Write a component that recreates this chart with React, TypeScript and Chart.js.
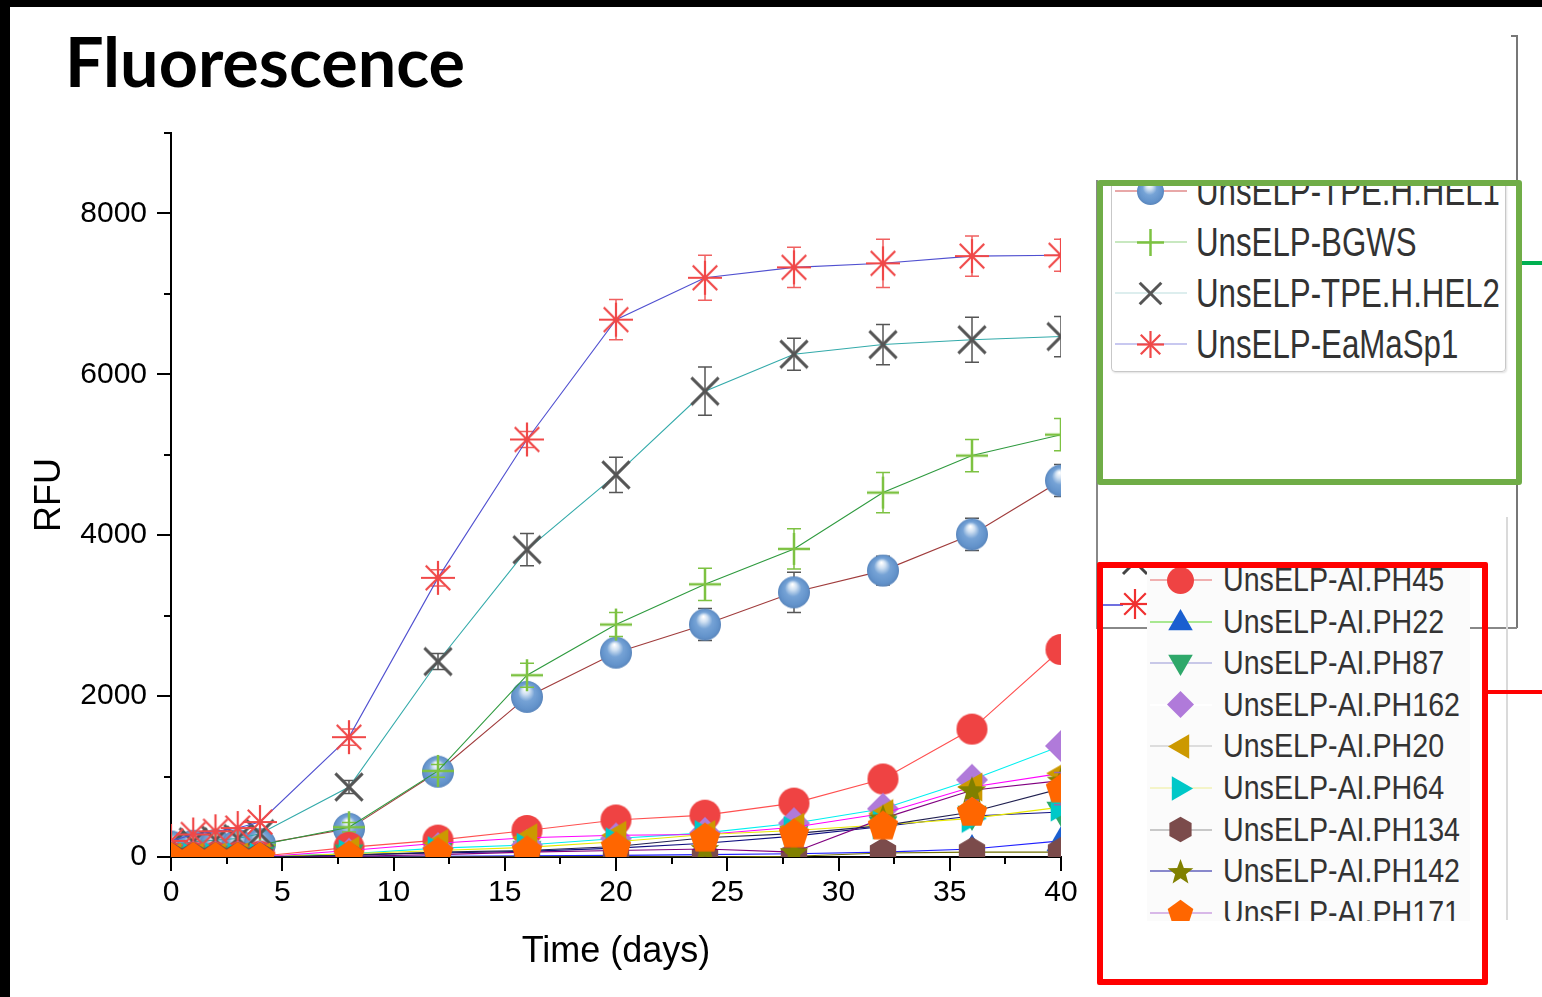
import React, { useEffect, useRef, useMemo } from 'react';
import { Chart, registerables } from 'chart.js';

Chart.register(...registerables);

// ---------------- DATA ----------------
const days = [0, 1, 2, 3, 4, 8, 12, 16, 20, 24, 28, 32, 36, 40];

const seriesNames = [
  'UnsELP-TPE.H.HEL1',
  'UnsELP-BGWS',
  'UnsELP-TPE.H.HEL2',
  'UnsELP-EaMaSp1',
  'UnsELP-AI.PH45',
  'UnsELP-AI.PH22',
  'UnsELP-AI.PH87',
  'UnsELP-AI.PH162',
  'UnsELP-AI.PH20',
  'UnsELP-AI.PH64',
  'UnsELP-AI.PH134',
  'UnsELP-AI.PH142',
  'UnsELP-AI.PH171',
];

const hel1 = [130, 140, 150, 150, 160, 350, 1060, 1990, 2540, 2890, 3290, 3560, 4010, 4680];
const bgws = [110, 110, 120, 130, 150, 370, 1070, 2260, 2890, 3390, 3830, 4530, 4990, 5250];
const hel2 = [150, 190, 210, 230, 290, 870, 2430, 3820, 4750, 5790, 6250, 6370, 6430, 6470];
const eaMaSp1 = [200, 280, 320, 360, 435, 1490, 3470, 5190, 6680, 7200, 7330, 7380, 7470, 7480];
const ph45 = [0, 0, 0, 0, 10, 120, 210, 330, 460, 520, 670, 970, 1590, 2580];
const ph22 = [0, 0, 0, 0, 0, 5, 10, 15, 20, 30, 40, 60, 100, 200];
const ph87 = [0, 0, 0, 0, 0, 30, 50, 70, 110, 170, 260, 380, 510, 560];
const ph162 = [0, 0, 0, 0, 10, 40, 110, 150, 230, 300, 420, 600, 960, 1380];
const ph20 = [0, 0, 0, 0, 0, 80, 170, 240, 270, 280, 370, 540, 870, 1040];
const ph64 = [0, 0, 0, 0, 0, 40, 80, 120, 190, 280, 330, 400, 480, 620];
const ph134 = [0, 0, 0, 0, 0, 0, 0, 0, 0, 0, 10, 50, 60, 60];
const ph142 = [0, 0, 0, 0, 0, 10, 30, 60, 80, 100, 60, 480, 830, 950];
const ph171 = [0, 0, 0, 0, 0, 20, 60, 80, 130, 240, 290, 390, 560, 850];

const hel1Err = [0, 0, 0, 0, 0, 60, 80, 100, 150, 200, 250, 180, 200, 200];
const bgwsErr = [0, 0, 0, 0, 0, 60, 80, 150, 150, 200, 250, 250, 200, 200];
const hel2Err = [0, 0, 0, 0, 0, 80, 100, 200, 220, 300, 200, 250, 280, 250];
const eaMaSp1Err = [0, 0, 0, 0, 0, 100, 100, 100, 250, 280, 250, 300, 250, 200];
const ph171Err = [0, 0, 0, 0, 0, 0, 60, 80, 80, 100, 120, 120, 150, 200];

const seriesValues = [hel1, bgws, hel2, eaMaSp1, ph45, ph22, ph87, ph162, ph20, ph64, ph134, ph142, ph171];
const seriesErrors = [hel1Err, bgwsErr, hel2Err, eaMaSp1Err, null, null, null, null, null, null, null, null, ph171Err];

const xTickValues = [0, 5, 10, 15, 20, 25, 30, 35, 40];
const yTickValues = [0, 2000, 4000, 6000, 8000];

// ---------------- STYLES ----------------
const markerShapes = ['sphere', 'plus', 'cross', 'asterisk', 'circle', 'triUp', 'triDown', 'diamond', 'triLeft', 'triRight', 'hexagon', 'star', 'pentagon'];
const markerColors = ['#6C9BD2', '#7DC242', '#555555', '#F04848', '#EF4343', '#1A5FD0', '#2EA86A', '#B07ADA', '#CC9900', '#00C8C8', '#7B4B4B', '#808000', '#FF6600'];
const lineColors = ['#A03C3C', '#2E9A3E', '#33AAAA', '#5050D0', '#FF5050', '#2020FF', '#101080', '#00F0F0', '#FF00FF', '#E8E800', '#707000', '#800080', '#202050'];
const legendLineColors = ['#E8A8A8', '#C8E8C0', '#DDEEEE', '#C8C8F0', '#F0B0B0', '#A8E890', '#C8C8E8', '#FFFFFF', '#DDDDDD', '#F4F4C8', '#C8C8C8', '#8888CC', '#D8B8E8'];
const errorColors = ['#555555', '#7DC242', '#555555', '#F06060', '', '', '', '', '', '', '', '', '#9966AA'];

function polygon(ctx: CanvasRenderingContext2D, cx: number, cy: number, r: number, n: number, start: number) {
  ctx.beginPath();
  for (let i = 0; i < n; i++) {
    const a = start + (i * 2 * Math.PI) / n;
    const px = cx + r * Math.cos(a);
    const py = cy + r * Math.sin(a);
    if (i === 0) ctx.moveTo(px, py);
    else ctx.lineTo(px, py);
  }
  ctx.closePath();
  ctx.fill();
}

function makeMarker(shape: string, color: string, size: number): HTMLCanvasElement {
  const c = document.createElement('canvas');
  const pad = 3;
  c.width = size + pad * 2;
  c.height = size + pad * 2;
  const ctx = c.getContext('2d') as CanvasRenderingContext2D;
  const cx = c.width / 2;
  const cy = c.height / 2;
  const r = size / 2;
  ctx.fillStyle = color;
  ctx.strokeStyle = color;
  ctx.lineCap = 'butt';
  const line = (x1: number, y1: number, x2: number, y2: number) => {
    ctx.beginPath();
    ctx.moveTo(x1, y1);
    ctx.lineTo(x2, y2);
    ctx.stroke();
  };
  switch (shape) {
    case 'sphere': {
      const g = ctx.createRadialGradient(cx - r * 0.1, cy - r * 0.5, 0.5, cx, cy, r);
      g.addColorStop(0, '#FFFFFF');
      g.addColorStop(0.22, '#CFE0F2');
      g.addColorStop(0.5, '#76A3D6');
      g.addColorStop(0.85, '#6393CB');
      g.addColorStop(1, '#5A86BC');
      ctx.fillStyle = g;
      ctx.beginPath();
      ctx.arc(cx, cy, r, 0, Math.PI * 2);
      ctx.fill();
      break;
    }
    case 'plus':
      ctx.lineWidth = 2.5;
      line(cx - r, cy, cx + r, cy);
      line(cx, cy - r, cx, cy + r);
      break;
    case 'cross': {
      ctx.lineWidth = 3;
      const d = r * 0.8;
      line(cx - d, cy - d, cx + d, cy + d);
      line(cx - d, cy + d, cx + d, cy - d);
      break;
    }
    case 'asterisk': {
      ctx.lineWidth = 2.2;
      const d = r * 0.72;
      line(cx - r, cy, cx + r, cy);
      line(cx, cy - r, cx, cy + r);
      line(cx - d, cy - d, cx + d, cy + d);
      line(cx - d, cy + d, cx + d, cy - d);
      break;
    }
    case 'circle':
      ctx.beginPath();
      ctx.arc(cx, cy, r, 0, Math.PI * 2);
      ctx.fill();
      break;
    case 'triUp':
      polygon(ctx, cx, cy + r * 0.12, r * 1.05, 3, -Math.PI / 2);
      break;
    case 'triDown':
      polygon(ctx, cx, cy - r * 0.12, r * 1.05, 3, Math.PI / 2);
      break;
    case 'triLeft':
      polygon(ctx, cx + r * 0.12, cy, r * 1.05, 3, Math.PI);
      break;
    case 'triRight':
      polygon(ctx, cx - r * 0.12, cy, r * 1.05, 3, 0);
      break;
    case 'diamond':
      polygon(ctx, cx, cy, r, 4, -Math.PI / 2);
      break;
    case 'hexagon':
      polygon(ctx, cx, cy, r * 0.95, 6, -Math.PI / 2);
      break;
    case 'pentagon':
      polygon(ctx, cx, cy + r * 0.05, r, 5, -Math.PI / 2);
      break;
    case 'star': {
      ctx.beginPath();
      for (let i = 0; i < 10; i++) {
        const a = -Math.PI / 2 + (i * Math.PI) / 5;
        const rr = i % 2 === 0 ? r : r * 0.42;
        const px = cx + rr * Math.cos(a);
        const py = cy + 1 + rr * Math.sin(a);
        if (i === 0) ctx.moveTo(px, py);
        else ctx.lineTo(px, py);
      }
      ctx.closePath();
      ctx.fill();
      break;
    }
  }
  return c;
}

const markerSizes = [32, 32, 34, 34, 31, 32, 32, 32, 32, 32, 32, 30, 32];

// ---------------- PLUGINS ----------------
const errorBarPlugin = {
  id: 'errorBars',
  beforeDatasetDraw(chart: any, args: any) {
    const ds = chart.data.datasets[args.index];
    const err = ds.errors as number[] | null;
    if (!err) return;
    const { ctx, chartArea, scales } = chart;
    const xs = scales.x;
    const ys = scales.y;
    ctx.save();
    ctx.beginPath();
    ctx.rect(chartArea.left, chartArea.top, chartArea.right - chartArea.left, chartArea.bottom - chartArea.top);
    ctx.clip();
    ctx.strokeStyle = ds.errorColor;
    ctx.lineWidth = 1.5;
    ds.data.forEach((p: any, i: number) => {
      const e = err[i];
      if (!e) return;
      const px = xs.getPixelForValue(p.x);
      const y1 = ys.getPixelForValue(p.y + e);
      const y2 = ys.getPixelForValue(p.y - e);
      ctx.beginPath();
      ctx.moveTo(px, y1);
      ctx.lineTo(px, y2);
      ctx.moveTo(px - 7, y1);
      ctx.lineTo(px + 7, y1);
      ctx.moveTo(px - 7, y2);
      ctx.lineTo(px + 7, y2);
      ctx.stroke();
    });
    ctx.restore();
  },
};

const tickPlugin = {
  id: 'axisTicks',
  beforeDatasetsDraw(chart: any) {
    const { ctx, chartArea, scales } = chart;
    const xs = scales.x;
    const ys = scales.y;
    ctx.save();
    ctx.strokeStyle = '#000';
    ctx.lineWidth = 2;
    for (let v = 0; v <= 9000; v += 1000) {
      const py = Math.round(ys.getPixelForValue(v));
      const len = yTickValues.includes(v) ? 14 : 7;
      ctx.beginPath();
      ctx.moveTo(chartArea.left - len, py);
      ctx.lineTo(chartArea.left, py);
      ctx.stroke();
    }
    for (let v = 0; v <= 40; v += 2.5) {
      const px = Math.round(xs.getPixelForValue(v));
      const len = xTickValues.includes(v) ? 14 : 7;
      ctx.beginPath();
      ctx.moveTo(px, chartArea.bottom);
      ctx.lineTo(px, chartArea.bottom + len);
      ctx.stroke();
    }
    ctx.restore();
  },
};

// ---------------- COMPONENTS ----------------
function FitText(props: { text: string; font: string; width: number; style?: any }) {
  const scale = useMemo(() => {
    const c = document.createElement('canvas');
    const ctx = c.getContext('2d') as CanvasRenderingContext2D;
    ctx.font = props.font;
    const w = ctx.measureText(props.text).width;
    return w > 0 ? props.width / w : 1;
  }, [props.text, props.font, props.width]);
  return (
    <span
      style={{
        display: 'inline-block',
        whiteSpace: 'nowrap',
        font: props.font,
        transform: `scaleX(${scale})`,
        transformOrigin: 'left center',
        ...(props.style || {}),
      }}
    >
      {props.text}
    </span>
  );
}

function FluorChart() {
  const ref = useRef<HTMLCanvasElement>(null);
  useEffect(() => {
    const N = seriesNames.length;
    const datasets = seriesNames.map((name, i) => ({
      label: name,
      data: days.map((d, j) => ({ x: d, y: seriesValues[i][j] })),
      borderColor: lineColors[i],
      backgroundColor: markerColors[i],
      borderWidth: 1.1,
      pointStyle: makeMarker(markerShapes[i], markerColors[i], markerSizes[i]),
      pointRadius: 15,
      pointHoverRadius: 15,
      tension: 0,
      clip: 0,
      order: N - i,
      errors: seriesErrors[i],
      errorColor: errorColors[i],
    }));
    const font = 'Liberation Sans, Arial, sans-serif';
    const chart = new Chart(ref.current as HTMLCanvasElement, {
      type: 'line',
      data: { datasets } as any,
      options: {
        animation: false,
        responsive: false,
        devicePixelRatio: 1,
        events: [],
        layout: { padding: { top: 133, right: 29, left: 0, bottom: 0 } },
        plugins: { legend: { display: false }, tooltip: { enabled: false }, title: { display: false } },
        scales: {
          x: {
            type: 'linear',
            min: 0,
            max: 40,
            afterFit: (s: any) => {
              s.height = 140;
            },
            afterBuildTicks: (s: any) => {
              s.ticks = xTickValues.map((v) => ({ value: v }));
            },
            grid: { display: true, drawOnChartArea: false, drawTicks: true, tickLength: 14, color: 'rgba(0,0,0,0)', tickColor: 'rgba(0,0,0,0)' },
            border: { display: true, color: '#000', width: 2 },
            ticks: { autoSkip: false, maxRotation: 0, padding: 4, color: '#000', font: { family: font, size: 30 }, callback: (v: any) => String(v) },
            title: { display: true, text: 'Time (days)', color: '#000', font: { family: font, size: 36 }, padding: { top: 0, bottom: 23 } },
          },
          y: {
            type: 'linear',
            min: 0,
            max: 9000,
            afterFit: (s: any) => {
              s.width = 171;
            },
            afterBuildTicks: (s: any) => {
              s.ticks = yTickValues.map((v) => ({ value: v }));
            },
            grid: { display: true, drawOnChartArea: false, drawTicks: true, tickLength: 14, color: 'rgba(0,0,0,0)', tickColor: 'rgba(0,0,0,0)' },
            border: { display: true, color: '#000', width: 2 },
            ticks: { autoSkip: false, padding: 10, color: '#000', font: { family: font, size: 30 }, callback: (v: any) => String(v) },
            title: { display: true, text: 'RFU', color: '#000', font: { family: font, size: 36 }, padding: { top: 28, bottom: 0 } },
          },
        },
      } as any,
      plugins: [errorBarPlugin, tickPlugin],
    });
    return () => chart.destroy();
  }, []);
  return <canvas ref={ref} width={1090} height={997} style={{ position: 'absolute', left: 0, top: 0, width: 1090, height: 997 }} />;
}

export default function App() {
  const icons = useMemo(
    () => seriesNames.map((_, i) => makeMarker(markerShapes[i], markerColors[i], 27).toDataURL()),
    []
  );
  const fragX = useMemo(() => makeMarker('cross', '#444444', 30).toDataURL(), []);
  const fragAst = useMemo(() => makeMarker('asterisk', '#F03030', 30).toDataURL(), []);

  const greenFont = '40px "Liberation Sans", Arial, sans-serif';
  const redFont = '33px "Liberation Sans", Arial, sans-serif';
  const greenScaleRef = 'UnsELP-TPE.H.HEL2';
  const redScaleRef = 'UnsELP-AI.PH162';

  const measure = (text: string, font: string) => {
    const c = document.createElement('canvas');
    const ctx = c.getContext('2d') as CanvasRenderingContext2D;
    ctx.font = font;
    return ctx.measureText(text).width;
  };
  const greenScale = 304 / measure(greenScaleRef, greenFont);
  const redScale = 237 / measure(redScaleRef, redFont);

  const abs = (l: number, t: number, w: number, h: number, extra?: any) => ({
    position: 'absolute' as const,
    left: l,
    top: t,
    width: w,
    height: h,
    ...(extra || {}),
  });

  const greenRows = [0, 1, 2, 3];
  const redRows = [4, 5, 6, 7, 8, 9, 10, 11, 12];

  return (
    <div style={{ position: 'fixed', left: 0, top: 0, width: 1542, height: 997, background: '#fff', overflow: 'hidden' }}>
      <FluorChart />

      {/* title */}
      <div style={{ position: 'absolute', left: 65, top: 20, lineHeight: '68px', color: '#000' }}>
        <FitText text="Fluorescence" font='bold 68px Lato, "Open Sans", sans-serif' width={400} />
      </div>

      {/* cropped screenshot frame lines */}
      <div style={abs(1516, 35, 1.5, 593, { background: '#777' })} />
      <div style={abs(1511, 35, 6, 1.5, { background: '#777' })} />
      <div style={abs(1096, 180, 1.5, 448, { background: '#888' })} />
      <div style={abs(1096, 627, 421, 1.5, { background: '#888' })} />
      <div style={abs(1506, 517, 2, 403, { background: '#DADADA' })} />

      {/* green box */}
      <div style={abs(1097, 180, 425, 305, { border: '6px solid #70AD47', boxSizing: 'border-box', borderRadius: 3, overflow: 'hidden', background: '#fff' })}>
        <div style={abs(8, -20, 395, 206, { border: '1.5px solid #C8C8C8', borderRadius: 4, boxSizing: 'border-box', boxShadow: '1px 1px 2px rgba(0,0,0,0.12)' })} />
        {greenRows.map((i, k) => {
          const cy = 5 + k * 51;
          return (
            <React.Fragment key={i}>
              <div style={abs(12, cy - 1, 72, 2, { background: legendLineColors[i] })} />
              <img src={icons[i]} style={abs(47 - 16.5, cy - 16.5, 33, 33)} />
              <div style={abs(93, cy - 20, 340, 40, { lineHeight: '40px', color: '#333', whiteSpace: 'nowrap' })}>
                <span style={{ display: 'inline-block', font: greenFont, lineHeight: '40px', transform: `scaleX(${greenScale})`, transformOrigin: 'left center' }}>
                  {seriesNames[i]}
                </span>
              </div>
            </React.Fragment>
          );
        })}
      </div>
      <div style={abs(1522, 261, 20, 4, { background: '#00B050' })} />

      {/* red box */}
      <div style={abs(1097, 562, 391, 423, { border: '6px solid #FF0000', boxSizing: 'border-box', borderRadius: 2, overflow: 'hidden' })}>
        <div style={abs(0, 36, 20, 1.5, { background: '#7070E0' })} />
        <img src={fragX} style={abs(32 - 18, -6 - 18, 36, 36)} />
        <img src={fragAst} style={abs(32 - 18, 36 - 18, 36, 36)} />
        <div style={abs(44, -6, 323, 359, { background: '#FBFBFB', overflow: 'hidden' })}>
          {redRows.map((i, k) => {
            const cy = 18 + k * 41.6;
            return (
              <React.Fragment key={i}>
                <div style={abs(3, cy - 1, 62, 2, { background: legendLineColors[i] })} />
                <img src={icons[i]} style={abs(33 - 16.5, cy - 16.5, 33, 33)} />
                <div style={abs(76, cy - 17, 320, 34, { lineHeight: '34px', color: '#333', whiteSpace: 'nowrap' })}>
                  <span style={{ display: 'inline-block', font: redFont, lineHeight: '34px', transform: `scaleX(${redScale})`, transformOrigin: 'left center' }}>
                    {seriesNames[i]}
                  </span>
                </div>
              </React.Fragment>
            );
          })}
        </div>
      </div>
      <div style={abs(1488, 690, 54, 4, { background: '#FF0000' })} />

      {/* black slide frame */}
      <div style={abs(0, 0, 1542, 7, { background: '#000' })} />
      <div style={abs(0, 0, 10, 997, { background: '#000' })} />
    </div>
  );
}
